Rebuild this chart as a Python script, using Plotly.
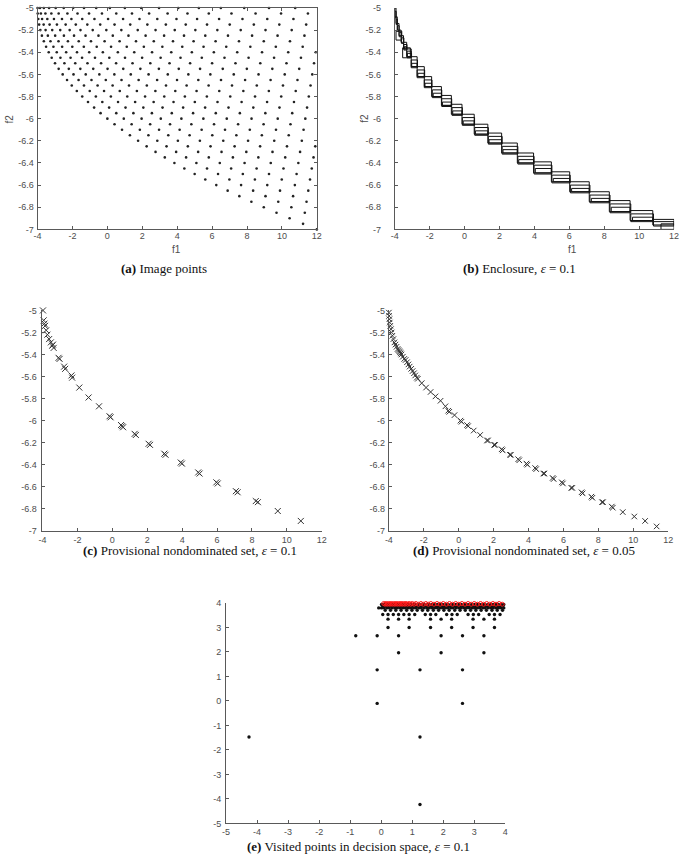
import plotly.graph_objects as go

# ---------------- data ----------------
# (a) image points, one list of f1 values per f2 row
A_F2_ROWS = [-5.00, -5.05, -5.10, -5.15, -5.20, -5.25, -5.30, -5.35, -5.40, -5.45,
             -5.50, -5.55, -5.60, -5.65, -5.70, -5.75, -5.80, -5.85, -5.90, -5.95,
             -6.00, -6.05, -6.10, -6.15, -6.20, -6.25, -6.30, -6.35, -6.40, -6.45,
             -6.50, -6.55, -6.60, -6.65, -6.70, -6.75, -6.80, -6.85, -6.90, -6.95, -7.00]
A_F1_ROWS = [
    [-4.00, -3.86, -3.64, -3.34, -2.96, -2.50, -1.96, -1.34, -0.64, 0.14, 1.00, 1.94, 2.96, 4.06, 5.24, 6.50, 7.84, 9.26, 10.76],
    [-3.99, -3.81, -3.55, -3.21, -2.79, -2.29, -1.71, -1.05, -0.31, 0.51, 1.41, 2.39, 3.45, 4.59, 5.81, 7.11, 8.49, 9.95, 11.49],
    [-3.96, -3.74, -3.44, -3.06, -2.60, -2.06, -1.44, -0.74, 0.04, 0.90, 1.84, 2.86, 3.96, 5.14, 6.40, 7.74, 9.16, 10.66],
    [-3.91, -3.65, -3.31, -2.89, -2.39, -1.81, -1.15, -0.41, 0.41, 1.31, 2.29, 3.35, 4.49, 5.71, 7.01, 8.39, 9.85, 11.39],
    [-3.84, -3.54, -3.16, -2.70, -2.16, -1.54, -0.84, -0.06, 0.80, 1.74, 2.76, 3.86, 5.04, 6.30, 7.64, 9.06, 10.56],
    [-3.75, -3.41, -2.99, -2.49, -1.91, -1.25, -0.51, 0.31, 1.21, 2.19, 3.25, 4.39, 5.61, 6.91, 8.29, 9.75, 11.29],
    [-3.64, -3.26, -2.80, -2.26, -1.64, -0.94, -0.16, 0.70, 1.64, 2.66, 3.76, 4.94, 6.20, 7.54, 8.96, 10.46],
    [-3.51, -3.09, -2.59, -2.01, -1.35, -0.61, 0.21, 1.11, 2.09, 3.15, 4.29, 5.51, 6.81, 8.19, 9.65, 11.19],
    [-3.36, -2.90, -2.36, -1.74, -1.04, -0.26, 0.60, 1.54, 2.56, 3.66, 4.84, 6.10, 7.44, 8.86, 10.36, 11.94],
    [-3.19, -2.69, -2.11, -1.45, -0.71, 0.11, 1.01, 1.99, 3.05, 4.19, 5.41, 6.71, 8.09, 9.55, 11.09],
    [-3.00, -2.46, -1.84, -1.14, -0.36, 0.50, 1.44, 2.46, 3.56, 4.74, 6.00, 7.34, 8.76, 10.26, 11.84],
    [-2.79, -2.21, -1.55, -0.81, 0.01, 0.91, 1.89, 2.95, 4.09, 5.31, 6.61, 7.99, 9.45, 10.99],
    [-2.56, -1.94, -1.24, -0.46, 0.40, 1.34, 2.36, 3.46, 4.64, 5.90, 7.24, 8.66, 10.16, 11.74],
    [-2.31, -1.65, -0.91, -0.09, 0.81, 1.79, 2.85, 3.99, 5.21, 6.51, 7.89, 9.35, 10.89],
    [-2.04, -1.34, -0.56, 0.30, 1.24, 2.26, 3.36, 4.54, 5.80, 7.14, 8.56, 10.06, 11.64],
    [-1.75, -1.01, -0.19, 0.71, 1.69, 2.75, 3.89, 5.11, 6.41, 7.79, 9.25, 10.79],
    [-1.44, -0.66, 0.20, 1.14, 2.16, 3.26, 4.44, 5.70, 7.04, 8.46, 9.96, 11.54],
    [-1.11, -0.29, 0.61, 1.59, 2.65, 3.79, 5.01, 6.31, 7.69, 9.15, 10.69],
    [-0.76, 0.10, 1.04, 2.06, 3.16, 4.34, 5.60, 6.94, 8.36, 9.86, 11.44],
    [-0.39, 0.51, 1.49, 2.55, 3.69, 4.91, 6.21, 7.59, 9.05, 10.59],
    [0.00, 0.94, 1.96, 3.06, 4.24, 5.50, 6.84, 8.26, 9.76, 11.34],
    [0.41, 1.39, 2.45, 3.59, 4.81, 6.11, 7.49, 8.95, 10.49],
    [0.84, 1.86, 2.96, 4.14, 5.40, 6.74, 8.16, 9.66, 11.24],
    [1.29, 2.35, 3.49, 4.71, 6.01, 7.39, 8.85, 10.39],
    [1.76, 2.86, 4.04, 5.30, 6.64, 8.06, 9.56, 11.14],
    [2.25, 3.39, 4.61, 5.91, 7.29, 8.75, 10.29, 11.91],
    [2.76, 3.94, 5.20, 6.54, 7.96, 9.46, 11.04],
    [3.29, 4.51, 5.81, 7.19, 8.65, 10.19, 11.81],
    [3.84, 5.10, 6.44, 7.86, 9.36, 10.94],
    [4.41, 5.71, 7.09, 8.55, 10.09, 11.71],
    [5.00, 6.34, 7.76, 9.26, 10.84],
    [5.61, 6.99, 8.45, 9.99, 11.61],
    [6.24, 7.66, 9.16, 10.74],
    [6.89, 8.35, 9.89, 11.51],
    [7.56, 9.06, 10.64],
    [8.25, 9.79, 11.41],
    [8.96, 10.54],
    [9.69, 11.31],
    [10.44],
    [11.21],
    [12.00],
]

# (b) enclosure boxes
B_LEFT = [-4.00, -3.99, -3.93, -3.92, -3.86, -3.85, -3.76, -3.75, -3.64, -3.62, -3.50, -3.48, -3.46, -3.32, -3.30, -3.28, -3.93, -3.55,
          -3.06, -3.06, -3.03, -2.72, -2.72, -2.68, -2.31, -2.31, -2.27, -1.89, -1.85, -1.80, -1.33, -1.31, -1.27,
          -0.76, -0.72, -0.68, -0.15, -0.13, -0.08, 0.55, 0.58, 0.62, 1.33, 1.36, 1.40, 2.12, 2.15, 2.20,
          3.02, 3.05, 3.10, 3.95, 3.98, 4.05, 4.97, 5.00, 5.08, 6.02, 6.06, 6.13, 7.14, 7.18, 7.26,
          8.29, 8.33, 8.40, 9.48, 9.52, 9.62, 10.78, 10.82, 11.25]
B_RIGHT = [-3.93, -3.92, -3.86, -3.85, -3.76, -3.75, -3.64, -3.62, -3.50, -3.48, -3.32, -3.30, -3.32, -3.06, -3.06, -3.04, -3.60, -3.11,
           -2.72, -2.70, -2.72, -2.31, -2.29, -2.31, -1.89, -1.87, -1.89, -1.33, -1.31, -1.33, -0.76, -0.74, -0.76,
           -0.15, -0.13, -0.15, 0.55, 0.57, 0.55, 1.33, 1.36, 1.33, 2.12, 2.15, 2.12, 3.02, 3.05, 3.02,
           3.95, 3.98, 3.95, 4.97, 5.00, 4.97, 6.02, 6.05, 6.02, 7.14, 7.18, 7.14, 8.29, 8.33, 8.29,
           9.48, 9.52, 9.48, 10.78, 10.82, 10.78, 12.00, 12.00, 12.00]
B_TOP = [-5.00, -5.03, -5.08, -5.10, -5.14, -5.16, -5.20, -5.22, -5.25, -5.27, -5.31, -5.33, -5.35, -5.37, -5.39, -5.41, -5.21, -5.36,
         -5.44, -5.47, -5.50, -5.53, -5.56, -5.59, -5.62, -5.65, -5.68, -5.71, -5.74, -5.77, -5.79, -5.82, -5.85,
         -5.87, -5.90, -5.93, -5.96, -5.99, -6.02, -6.05, -6.08, -6.11, -6.13, -6.16, -6.19, -6.22, -6.25, -6.28,
         -6.31, -6.34, -6.37, -6.39, -6.42, -6.45, -6.48, -6.51, -6.54, -6.57, -6.60, -6.63, -6.66, -6.69, -6.72,
         -6.74, -6.77, -6.80, -6.83, -6.86, -6.89, -6.91, -6.93, -6.95]
B_BOTTOM = [-5.08, -5.09, -5.14, -5.15, -5.20, -5.21, -5.25, -5.26, -5.31, -5.32, -5.37, -5.38, -5.37, -5.44, -5.45, -5.44, -5.29, -5.45,
            -5.53, -5.54, -5.53, -5.62, -5.63, -5.62, -5.71, -5.72, -5.71, -5.80, -5.81, -5.80, -5.88, -5.89, -5.88,
            -5.96, -5.97, -5.96, -6.05, -6.06, -6.05, -6.14, -6.15, -6.14, -6.22, -6.23, -6.22, -6.31, -6.32, -6.31,
            -6.40, -6.41, -6.40, -6.49, -6.50, -6.49, -6.57, -6.58, -6.57, -6.66, -6.67, -6.66, -6.75, -6.76, -6.75,
            -6.84, -6.85, -6.84, -6.92, -6.93, -6.92, -6.96, -6.97, -7.00]

# (c) provisional nondominated set, eps = 0.1
C_F1 = [-3.97, -3.93, -3.89, -3.85, -3.79, -3.72, -3.62, -3.52, -3.44, -3.36, -3.40, -3.08, -3.02, -2.76, -2.70,
        -2.34, -2.30, -1.89, -1.36, -0.76, -0.16, -0.10, 0.50, 0.56, 0.62, 1.28, 1.35, 2.08, 2.16, 2.98, 3.05,
        3.92, 3.99, 4.92, 5.00, 5.96, 6.04, 7.08, 7.18, 8.22, 8.34, 9.48, 10.80]
C_F2 = [-5.00, -5.09, -5.12, -5.14, -5.18, -5.22, -5.26, -5.29, -5.32, -5.34, -5.31, -5.43, -5.44, -5.51, -5.53,
        -5.59, -5.61, -5.70, -5.79, -5.87, -5.96, -5.97, -6.04, -6.05, -6.06, -6.12, -6.13, -6.21, -6.22, -6.30, -6.31,
        -6.38, -6.39, -6.47, -6.48, -6.56, -6.57, -6.64, -6.65, -6.73, -6.74, -6.82, -6.91]

# (d) provisional nondominated set, eps = 0.05
D_F1 = [-4.00, -3.99, -3.97, -3.95, -3.92, -3.88, -3.84, -3.80, -3.74, -3.68, -3.62, -3.56, -3.50, -3.45, -3.40,
        -3.36, -3.32, -3.28, -3.20, -3.12, -3.04, -2.96, -2.88, -2.81, -2.72, -2.64, -2.56, -2.49, -2.40, -2.34,
        -2.12, -1.87, -1.61, -1.33, -1.04, -0.76, -0.60, -0.54, -0.24, 0.10, 0.16, 0.48, 0.54, 0.86, 1.23,
        1.62, 1.68, 2.03, 2.09, 2.46, 2.52, 2.93, 2.99, 3.41, 3.47, 3.88, 3.94, 4.38, 4.44, 4.85, 4.91,
        5.38, 5.44, 5.91, 5.97, 6.45, 6.51, 7.04, 7.10, 7.60, 7.66, 8.21, 8.27, 8.77, 8.83, 9.40, 10.06, 10.68, 11.34]
D_F2 = [-5.02, -5.05, -5.08, -5.11, -5.14, -5.17, -5.20, -5.23, -5.26, -5.29, -5.31, -5.33, -5.35, -5.36, -5.37,
        -5.38, -5.39, -5.40, -5.42, -5.44, -5.45, -5.47, -5.49, -5.51, -5.53, -5.55, -5.57, -5.59, -5.61, -5.62,
        -5.66, -5.70, -5.74, -5.78, -5.82, -5.87, -5.91, -5.92, -5.95, -6.00, -6.01, -6.04, -6.05, -6.09, -6.13,
        -6.18, -6.18, -6.22, -6.22, -6.26, -6.27, -6.31, -6.31, -6.35, -6.36, -6.39, -6.40, -6.43, -6.44, -6.48, -6.48,
        -6.52, -6.53, -6.56, -6.57, -6.61, -6.61, -6.65, -6.66, -6.69, -6.70, -6.74, -6.74, -6.78, -6.79, -6.83, -6.87, -6.91, -6.96]

# (e) visited points in decision space
E_ROWS_X2 = [-4.23, -1.47, -0.10, 1.27, 1.97, 2.66, 3.00, 3.34, 3.53, 3.70, 3.80, 3.88, 3.94]
E_ROWS_X1 = [
    [1.25],
    [-4.26, 1.25],
    [-0.13, 2.62],
    [-0.13, 1.25, 2.62],
    [0.56, 1.93, 3.31],
    [-0.82, -0.13, 0.56, 1.93, 2.62, 3.31],
    [0.22, 0.90, 1.59, 2.27, 2.96, 3.65],
    [0.22, 0.56, 0.90, 1.59, 1.93, 2.27, 2.96, 3.31, 3.65],
    [0.05, 0.22, 0.39, 0.56, 0.73, 0.90, 1.08, 1.42, 1.59, 1.76, 2.11, 2.28, 2.45, 2.80, 2.97, 3.14, 3.48, 3.65, 3.83],
    [0.13, 0.30, 0.47, 0.64, 0.82, 0.99, 1.16, 1.33, 1.50, 1.68, 1.85, 2.02, 2.19, 2.37, 2.54, 2.71, 2.88, 3.05,
     3.22, 3.39, 3.57, 3.74, 3.91],
    [-0.08, 0.01, 0.09, 0.18, 0.26, 0.35, 0.44, 0.52, 0.61, 0.69, 0.78, 0.87, 0.95, 1.04, 1.12, 1.21, 1.29, 1.38,
     1.47, 1.55, 1.64, 1.72, 1.81, 1.90, 1.98, 2.07, 2.15, 2.24, 2.32, 2.41, 2.50, 2.58, 2.67, 2.75, 2.84,
     2.93, 3.01, 3.10, 3.18, 3.27, 3.35, 3.44, 3.53, 3.61, 3.70, 3.78, 3.87, 3.95],
    [0.05, 0.13, 0.22, 0.30, 0.39, 0.48, 0.56, 0.65, 0.73, 0.82, 0.91, 0.99, 1.08, 1.16, 1.25, 1.34, 1.42, 1.51,
     1.59, 1.68, 1.77, 1.85, 1.94, 2.02, 2.11, 2.20, 2.28, 2.37, 2.45, 2.54, 2.63, 2.71, 2.80, 2.88, 2.97,
     3.06, 3.14, 3.23, 3.31, 3.40, 3.49, 3.57, 3.66, 3.74, 3.83, 3.92],
    [0.01, 0.09, 0.18, 0.26, 0.35, 0.44, 0.52, 0.61, 0.69, 0.78, 0.87, 0.95, 1.04, 1.12, 1.21, 1.29, 1.38,
     1.47, 1.55, 1.64, 1.72, 1.81, 1.90, 1.98, 2.07, 2.15, 2.24, 2.32, 2.41, 2.50, 2.58, 2.67, 2.75, 2.84,
     2.93, 3.01, 3.10, 3.18, 3.27, 3.35, 3.44, 3.53, 3.61, 3.70, 3.78, 3.87, 3.95],
]
E_RED_X1 = [0.08, 0.12, 0.16, 0.20, 0.24, 0.28, 0.32, 0.36, 0.40, 0.44, 0.48, 0.52, 0.56, 0.60, 0.64, 0.68,
            0.72, 0.76, 0.80, 0.85, 0.90, 0.95, 1.00, 1.06, 1.12, 1.20, 1.28, 1.36, 1.44, 1.52, 1.60, 1.70,
            1.80, 1.90, 2.00, 2.10, 2.20, 2.30, 2.40, 2.50, 2.60, 2.70, 2.80, 2.90, 3.00, 3.10, 3.20, 3.30,
            3.40, 3.50, 3.60, 3.70, 3.80, 3.90]
E_RED_X2 = [3.98, 3.95, 3.98, 3.95, 3.98, 3.95, 3.98, 3.95, 3.98, 3.95, 3.98, 3.95, 3.98, 3.95, 3.98, 3.95,
            3.98, 3.95, 3.98, 3.95, 3.98, 3.95, 3.98, 3.95, 3.98, 3.95, 3.98, 3.95, 3.98, 3.95, 3.98, 3.95,
            3.98, 3.95, 3.98, 3.95, 3.98, 3.95, 3.98, 3.95, 3.98, 3.95, 3.98, 3.95, 3.98, 3.95, 3.98, 3.95,
            3.98, 3.95, 3.98, 3.95, 3.98, 3.95]

F_XTICKS = [-4, -2, 0, 2, 4, 6, 8, 10, 12]
F_YTICKS = [-7, -6.8, -6.6, -6.4, -6.2, -6, -5.8, -5.6, -5.4, -5.2, -5]
E_TICKS = [-5, -4, -3, -2, -1, 0, 1, 2, 3, 4]

CAPTIONS = [
    "<b>(a)</b> Image points",
    "<b>(b)</b> Enclosure, <i>ε</i> = 0.1",
    "<b>(c)</b> Provisional nondominated set, <i>ε</i> = 0.1",
    "<b>(d)</b> Provisional nondominated set, <i>ε</i> = 0.05",
    "<b>(e)</b> Visited points in decision space, <i>ε</i> = 0.1",
]

# ---------------- figure ----------------
W, H = 685, 864
AXCOL = "#595959"
TICKFONT = dict(family="Liberation Sans, Arial, sans-serif", size=9, color="#4d4d4d")


def px_x(a, b):
    return [a / W, b / W]


def px_y(top, bottom):
    return [1 - bottom / H, 1 - top / H]


def lbl(v):
    return f"{v:g}"


fig = go.Figure()

# (a)
ax_f1, ax_f2 = [], []
for f2, row in zip(A_F2_ROWS, A_F1_ROWS):
    ax_f1 += row
    ax_f2 += [f2] * len(row)
fig.add_trace(go.Scatter(x=ax_f1, y=ax_f2, mode="markers", xaxis="x", yaxis="y",
                         marker=dict(size=2.6, color="#222"), cliponaxis=False))

# (b)
bx, by = [], []
for l, r, t, b in zip(B_LEFT, B_RIGHT, B_TOP, B_BOTTOM):
    bx += [l, r, r, l, l, None]
    by += [b, b, t, t, b, None]
fig.add_trace(go.Scatter(x=bx, y=by, mode="lines", xaxis="x2", yaxis="y2",
                         line=dict(color="#111", width=1)))

# (c), (d)
fig.add_trace(go.Scatter(x=C_F1, y=C_F2, mode="markers", xaxis="x3", yaxis="y3", cliponaxis=False,
                         marker=dict(symbol="x-thin", size=6, color="#333",
                                     line=dict(width=1, color="#333"))))
fig.add_trace(go.Scatter(x=D_F1, y=D_F2, mode="markers", xaxis="x4", yaxis="y4", cliponaxis=False,
                         marker=dict(symbol="x-thin", size=5.5, color="#333",
                                     line=dict(width=1, color="#333"))))

# (e)
ex1, ex2 = [], []
for x2, row in zip(E_ROWS_X2, E_ROWS_X1):
    ex1 += row
    ex2 += [x2] * len(row)
fig.add_trace(go.Scatter(x=ex1, y=ex2, mode="markers", xaxis="x5", yaxis="y5", cliponaxis=False,
                         marker=dict(size=3.4, color="#111")))
fig.add_trace(go.Scatter(x=E_RED_X1, y=E_RED_X2, mode="markers", xaxis="x5", yaxis="y5", cliponaxis=False,
                         marker=dict(symbol="circle-open", size=4, color="#ff1a1a",
                                     line=dict(width=1, color="#ff1a1a"))))


def axis(dom, anchor, rng, ticks, mirror=False, standoff=2):
    return dict(domain=dom, anchor=anchor, range=rng, tickvals=ticks, ticktext=[lbl(t) for t in ticks],
                showgrid=False, zeroline=False, showline=True, linecolor=AXCOL, linewidth=1,
                ticks="inside", ticklen=3, tickcolor=AXCOL, tickfont=TICKFONT,
                mirror="ticks" if mirror else False, ticklabelstandoff=standoff)


FR = [-4, 12]
FY = [-7, -5]
fig.update_layout(
    width=W, height=H, margin=dict(l=0, r=0, t=0, b=0),
    paper_bgcolor="white", plot_bgcolor="white", showlegend=False,
    xaxis=axis(px_x(34, 317), "y", FR, F_XTICKS, True, -2),
    yaxis=axis(px_y(3, 227), "x", FY, F_YTICKS, True, 1),
    xaxis2=axis(px_x(396, 679), "y2", FR, F_XTICKS, False, -2),
    yaxis2=axis(px_y(3, 227), "x2", FY, F_YTICKS, False, 11),
    xaxis3=axis(px_x(39, 322), "y3", FR, F_XTICKS, False, 0),
    yaxis3=axis(px_y(309, 532), "x3", FY, F_YTICKS, False, 3),
    xaxis4=axis(px_x(390, 673), "y4", FR, F_XTICKS, False, 0),
    yaxis4=axis(px_y(309, 532), "x4", FY, F_YTICKS, False, 1),
    xaxis5=axis(px_x(225, 508), "y5", [-5, 4], E_TICKS, False, 0),
    yaxis5=axis(px_y(605, 828), "x5", [-5, 4], E_TICKS, False, 2),
)

ann = []
for text, cx, cy in zip(CAPTIONS, [162, 522, 188, 527, 359], [267, 267, 552, 552, 851]):
    ann.append(dict(text=text, x=cx / W, y=1 - cy / H, xref="paper", yref="paper",
                    xanchor="center", yanchor="middle", showarrow=False,
                    font=dict(family="Liberation Serif, serif", size=13, color="#111")))
for text, cx, cy, ang in [("f1", 175, 247, 0), ("f2", 6, 115, -90),
                          ("f1", 576, 247, 0), ("f2", 365, 115, -90)]:
    ann.append(dict(text=text, x=cx / W, y=1 - cy / H, xref="paper", yref="paper",
                    xanchor="center", yanchor="middle", showarrow=False, textangle=ang,
                    font=dict(family="Liberation Sans, Arial, sans-serif", size=10, color="#4d4d4d")))
fig.update_layout(annotations=ann)

# the page's default body margin would shift the whole figure by 8 px
fig.write_html("out.html", config={"displayModeBar": False},
               post_script="document.body.style.margin='0';")
